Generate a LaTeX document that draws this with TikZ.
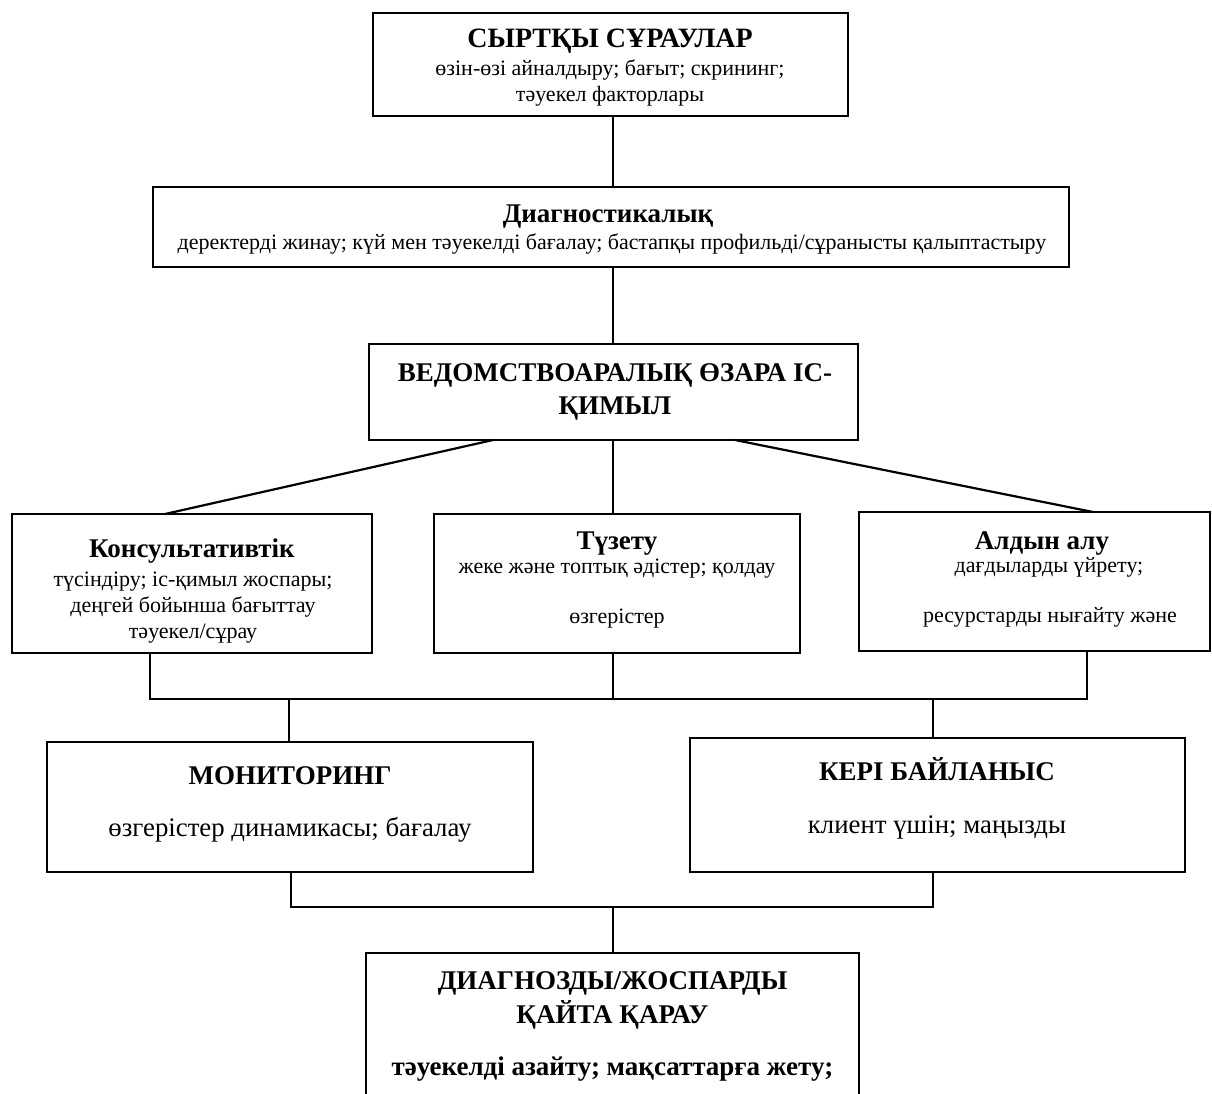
\documentclass[tikz,border=0pt]{standalone}
\usepackage{fontspec}
\setmainfont{Liberation Serif}
\begin{document}
\begin{tikzpicture}[x=1pt,y=-1pt,
  box/.style={draw, line width=2.8pt, inner sep=0pt, outer sep=0pt},
  wire/.style={line width=2.2pt},
  ttl/.style={font=\fontsize{27}{31}\selectfont\bfseries, inner sep=0pt, anchor=base},
  txt/.style={font=\fontsize{22}{26}\selectfont, inner sep=0pt, anchor=base},
  txtl/.style={font=\fontsize{26.8}{31}\selectfont, inner sep=0pt, anchor=base}]
\useasboundingbox (0,0) rectangle (1212,1093);
% boxes
\node[box, minimum width=475pt, minimum height=103pt] (b1) at (610.5,64.5) {};
\node[box, minimum width=916pt, minimum height=80pt] (b2) at (611,227) {};
\node[box, minimum width=489pt, minimum height=96pt] (b3) at (613.5,392) {};
\node[box, minimum width=360pt, minimum height=139pt] (b4) at (192,583.5) {};
\node[box, minimum width=366pt, minimum height=139pt] (b5) at (617,583.5) {};
\node[box, minimum width=351pt, minimum height=139pt] (b6) at (1034.5,581.5) {};
\node[box, minimum width=486pt, minimum height=130pt] (b7) at (290,807) {};
\node[box, minimum width=495pt, minimum height=134pt] (b8) at (937.5,805) {};
\node[box, minimum width=493pt, minimum height=167pt] (b9) at (612.5,1036.5) {};
% texts
\node[ttl, font=\fontsize{28}{32}\selectfont\bfseries] (t1a) at (610,47) {СЫРТҚЫ СҰРАУЛАР};
\node[txt] (t1b) at (610,75) {өзін-өзі айналдыру; бағыт; скрининг;};
\node[txt] (t1c) at (610,101) {тәуекел факторлары};
\node[ttl] (t2a) at (608,222) {Диагностикалық};
\node[txt] (t2b) at (612,249) {деректерді жинау; күй мен тәуекелді бағалау; бастапқы профильді/сұранысты қалыптастыру};
\node[ttl] (t3a) at (615,381) {ВЕДОМСТВОАРАЛЫҚ ӨЗАРА ІС-};
\node[ttl] (t3b) at (615,414) {ҚИМЫЛ};
\node[ttl] (t4a) at (192,557) {Консультативтік};
\node[txt] (t4b) at (193,586) {түсіндіру; іс-қимыл жоспары;};
\node[txt] (t4c) at (193,612) {деңгей бойынша бағыттау};
\node[txt] (t4d) at (193,638) {тәуекел/сұрау};
\node[ttl] (t5a) at (617,549) {Түзету};
\node[txt] (t5b) at (617,573) {жеке және топтық әдістер; қолдау};
\node[txt] (t5c) at (617,623) {өзгерістер};
\node[ttl] (t6a) at (1042,549) {Алдын алу};
\node[txt] (t6b) at (1049,572) {дағдыларды үйрету;};
\node[txt] (t6c) at (1050,622) {ресурстарды нығайту және};
\node[ttl] (t7a) at (290,784) {МОНИТОРИНГ};
\node[txtl] (t7b) at (290,836) {өзгерістер динамикасы; бағалау};
\node[ttl] (t8a) at (937,780) {КЕРІ БАЙЛАНЫС};
\node[txtl] (t8b) at (937,833) {клиент үшін; маңызды};
\node[ttl] (t9a) at (612.5,989) {ДИАГНОЗДЫ/ЖОСПАРДЫ};
\node[ttl] (t9b) at (612.5,1023) {ҚАЙТА ҚАРАУ};
\node[ttl] (t9c) at (612.5,1075) {тәуекелді азайту; мақсаттарға жету;};
% connector coordinates
\coordinate (sp) at (613,0);
\coordinate (dL) at (493,0);
\coordinate (dLe) at (165,0);
\coordinate (dR) at (735,0);
\coordinate (dRe) at (1093,0);
\coordinate (x4) at (150,0);
\coordinate (x6) at (1087,0);
\coordinate (x7) at (289,0);
\coordinate (x7b) at (291,0);
\coordinate (x8) at (933,0);
\coordinate (bus1) at (0,699);
\coordinate (bus2) at (0,907);
% connectors
\draw[wire] (b1.south -| sp) -- (b2.north -| sp);
\draw[wire] (b2.south -| sp) -- (b3.north -| sp);
\draw[wire] (b3.south -| dL) -- (b4.north -| dLe);
\draw[wire] (b3.south -| sp) -- (b5.north -| sp);
\draw[wire] (b3.south -| dR) -- (b6.north -| dRe);
\draw[wire] (b4.south -| x4) -- (bus1 -| x4) -- (bus1 -| x6) -- (b6.south -| x6);
\draw[wire] (b5.south -| sp) -- (bus1 -| sp);
\draw[wire] (bus1 -| x7) -- (b7.north -| x7);
\draw[wire] (bus1 -| x8) -- (b8.north -| x8);
\draw[wire] (b7.south -| x7b) -- (bus2 -| x7b) -- (bus2 -| x8) -- (b8.south -| x8);
\draw[wire] (bus2 -| sp) -- (b9.north -| sp);
\end{tikzpicture}
\end{document}
